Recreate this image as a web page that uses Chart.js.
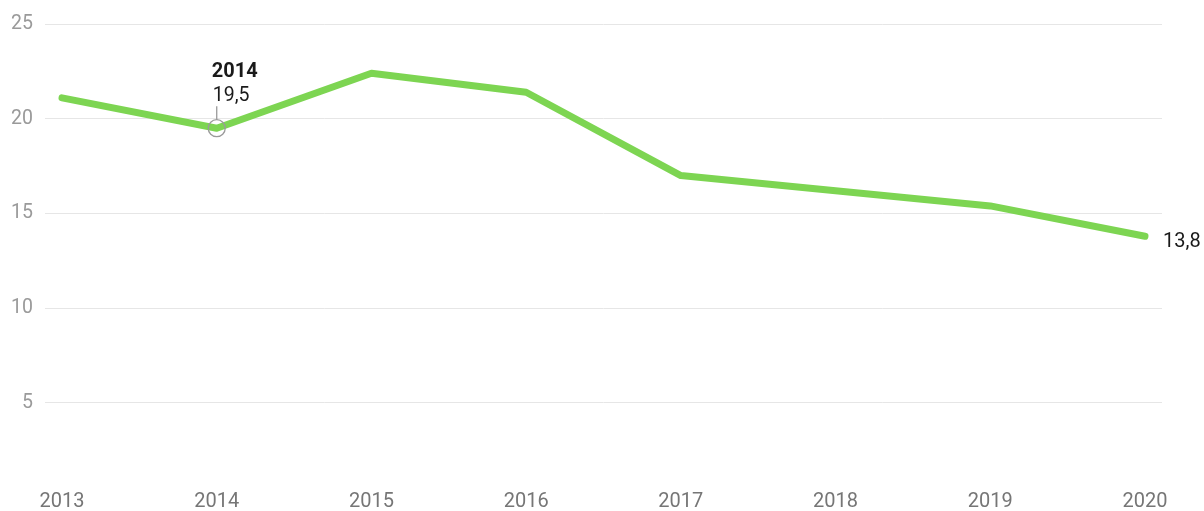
<!DOCTYPE html>
<html>
<head>
<meta charset="utf-8">
<script src="https://cdn.jsdelivr.net/npm/chart.js@4/dist/chart.umd.min.js"></script>
<style>
  html, body { margin: 0; padding: 0; background: #fff; }
  #wrap { width: 1204px; height: 511px; position: relative; }
</style>
</head>
<body>
<div id="wrap"><canvas id="c" width="1204" height="511"></canvas></div>
<script>
const years = [2013, 2014, 2015, 2016, 2017, 2018, 2019, 2020];
const values = [21.1, 19.5, 22.4, 21.4, 17.0, 16.2, 15.4, 13.8];
const yTicks = [5, 10, 15, 20, 25];
const highlightYear = 2014;
const lastLabel = "13,8";

const fmt = v => String(v).replace('.', ',');
const FONT = 'Roboto, "Noto Sans", sans-serif';

const annot = {
  id: 'annot',
  afterDatasetsDraw(chart) {
    const ctx = chart.ctx, xs = chart.scales.x, ys = chart.scales.y;
    const hi = years.indexOf(highlightYear);
    const px = xs.getPixelForValue(years[hi]);
    const py = ys.getPixelForValue(values[hi]);
    ctx.save();
    ctx.strokeStyle = '#9a9a9a';
    ctx.lineWidth = 1.3;
    ctx.beginPath();
    ctx.arc(px, py, 8.5, 0, Math.PI * 2);
    ctx.stroke();
    ctx.beginPath();
    ctx.moveTo(px, py - 8.5);
    ctx.lineTo(px, py - 22);
    ctx.stroke();
    ctx.fillStyle = '#1a1a1a';
    ctx.textAlign = 'left';
    ctx.textBaseline = 'middle';
    ctx.font = 'bold 20px ' + FONT;
    ctx.fillText(String(years[hi]), px - 5, py - 56);
    ctx.font = '19.5px ' + FONT;
    ctx.fillText(fmt(values[hi]), px - 4, py - 32);
    const lx = xs.getPixelForValue(years[years.length - 1]);
    const ly = ys.getPixelForValue(values[values.length - 1]);
    ctx.font = '20px ' + FONT;
    ctx.fillText(lastLabel, lx + 18, ly + 6);
    ctx.restore();
  }
};

new Chart(document.getElementById('c'), {
  type: 'line',
  data: {
    datasets: [{
      data: years.map((y, i) => ({ x: y, y: values[i] })),
      borderColor: '#7dd552',
      borderWidth: 7,
      borderCapStyle: 'round',
      borderJoinStyle: 'round',
      pointRadius: 0,
      tension: 0,
      fill: false
    }]
  },
  options: {
    responsive: false,
    animation: false,
    devicePixelRatio: 1,
    layout: { padding: { top: 24, right: 42, bottom: 0, left: 0 } },
    plugins: { legend: { display: false }, tooltip: { enabled: false } },
    scales: {
      x: {
        type: 'linear',
        min: 2012.89,
        max: 2020.11,
        afterBuildTicks: s => { s.ticks = years.map(v => ({ value: v })); },
        afterFit: s => { s.height = 37; },
        grid: { display: false, drawTicks: false },
        border: { display: false },
        ticks: {
          callback: v => String(v),
          color: '#767676',
          font: { family: FONT, size: 20 },
          padding: 16,
          maxRotation: 0,
          autoSkip: false
        }
      },
      y: {
        min: 1.25,
        max: 25,
        afterBuildTicks: s => { s.ticks = yTicks.map(v => ({ value: v })); },
        afterFit: s => { s.width = 45; },
        grid: { color: '#e6e6e6', lineWidth: 1, drawTicks: false },
        border: { display: false },
        ticks: {
          callback: v => String(v),
          color: '#9a9a9a',
          font: { family: FONT, size: 19.5 },
          padding: 12
        }
      }
    }
  },
  plugins: [annot]
});
</script>
</body>
</html>
